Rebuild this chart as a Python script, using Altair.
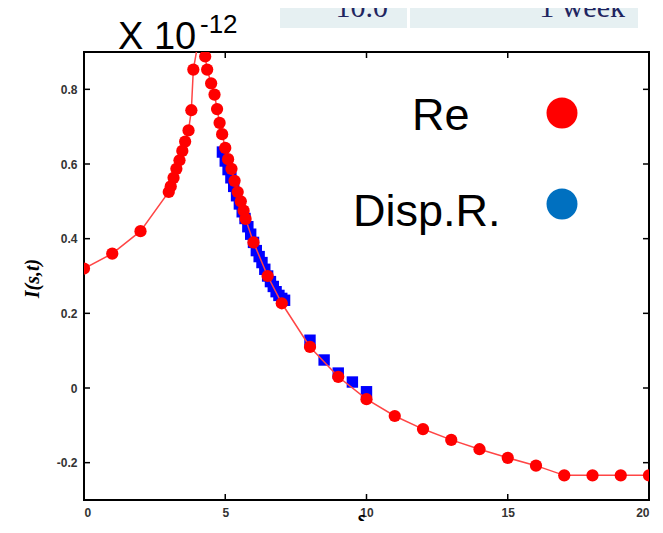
import altair as alt
import pandas as pd

# Red "Re" series (circles joined by a line)
red_x = [0, 1, 2, 3.0, 3.07, 3.17, 3.27, 3.38, 3.48, 3.58, 3.7, 3.8, 3.87, 4.05,
         4.29, 4.36, 4.5, 4.62, 4.71, 4.8, 4.89, 5.0, 5.1, 5.22, 5.33, 5.44, 5.55, 5.65, 5.72,
         6.0, 6.5, 7.0, 8, 9, 10, 11, 12, 13, 14, 15, 16, 17, 18, 19, 20]
red_y = [0.32, 0.36, 0.42, 0.525, 0.54, 0.563, 0.587, 0.61, 0.635, 0.66, 0.69, 0.744, 0.853, 0.93,
         0.888, 0.853, 0.816, 0.786, 0.747, 0.71, 0.68, 0.643, 0.613, 0.587, 0.555, 0.525, 0.50, 0.475, 0.453,
         0.39, 0.30, 0.227, 0.11, 0.03, -0.03, -0.075, -0.11, -0.139, -0.164, -0.187, -0.208,
         -0.234, -0.234, -0.234, -0.234]

# Blue "Disp.R." series (squares)
blue_x = [4.9, 5.0, 5.1, 5.2, 5.3, 5.4, 5.5, 5.6, 5.7, 5.8, 5.9, 6.0, 6.1, 6.2, 6.3, 6.4, 6.5,
          6.6, 6.7, 6.8, 6.9, 7.0, 7.1, 8.0, 8.5, 9.0, 9.5, 10.0]
blue_y = [0.632, 0.608, 0.585, 0.563, 0.540, 0.515, 0.493, 0.472, 0.454, 0.432, 0.412, 0.39,
          0.368, 0.352, 0.336, 0.318, 0.30, 0.285, 0.272, 0.258, 0.248, 0.240, 0.235,
          0.128, 0.075, 0.04, 0.016, -0.01]

x_ticks = [0, 5, 10, 15, 20]
y_ticks = [-0.2, 0, 0.2, 0.4, 0.6, 0.8]

W, H = 565, 448

red = pd.DataFrame({"x": red_x, "y": red_y})
blue = pd.DataFrame({"x": blue_x, "y": blue_y})
xt = pd.DataFrame({"x": x_ticks})
yt = pd.DataFrame({"y": y_ticks})
one = pd.DataFrame({"a": [0]})

xscale = alt.Scale(domain=[0, 20], nice=False, zero=False)
yscale = alt.Scale(domain=[-0.3, 0.9], nice=False, zero=False)

xaxis = alt.Axis(values=x_ticks, ticks=False, tickSize=0, domain=False, grid=False,
                 labelFont="Liberation Sans", labelFontWeight="bold", labelFontSize=12,
                 labelColor="#333333", labelPadding=7,
                 title="s", titleFont="Liberation Serif", titleFontStyle="italic",
                 titleFontWeight="bold", titleFontSize=20, titleY=8, titleBaseline="top",
                 titleX=277, titleColor="black")
yaxis = alt.Axis(values=y_ticks, ticks=False, tickSize=0, domain=False, grid=False,
                 labelFont="Liberation Sans", labelFontWeight="bold", labelFontSize=12,
                 labelColor="#333333", labelPadding=7,
                 labelExpr="datum.value == 0 ? '0' : (datum.value < 0 ? '-' : '') + format(abs(datum.value), '.1f')",
                 title="I(s,t)", titleFont="Liberation Serif", titleFontStyle="italic",
                 titleFontWeight="bold", titleFontSize=20, titleAngle=270,
                 titleX=-52, titleY=226, titleAlign="center", titleBaseline="middle",
                 titleColor="black")

X = alt.X("x:Q", scale=xscale, axis=xaxis)
Y = alt.Y("y:Q", scale=yscale, axis=yaxis)

blue_pts = alt.Chart(blue).mark_square(size=130, color="#0000ff", opacity=1, clip=True).encode(x=X, y=Y)
red_line = alt.Chart(red).mark_line(color="#ff4545", strokeWidth=1.5, clip=True).encode(x=X, y=Y)
red_pts = alt.Chart(red).mark_circle(size=150, color="#ff0000", opacity=1, clip=True).encode(x=X, y=Y)

tx = alt.X("x:Q", scale=xscale)
ty = alt.Y("y:Q", scale=yscale)
tick_style = dict(color="black", strokeWidth=1.5)
ticks_bottom = alt.Chart(xt).mark_rule(**tick_style).encode(x=tx, y=alt.value(H), y2=alt.value(H - 6))
ticks_top = alt.Chart(xt).mark_rule(**tick_style).encode(x=tx, y=alt.value(0), y2=alt.value(6))
ticks_left = alt.Chart(yt).mark_rule(**tick_style).encode(y=ty, x=alt.value(0), x2=alt.value(6))
ticks_right = alt.Chart(yt).mark_rule(**tick_style).encode(y=ty, x=alt.value(W), x2=alt.value(W - 6))

# Table fragment at top
tab1 = alt.Chart(one).mark_rect(color="#E6F0F2").encode(
    x=alt.value(196), x2=alt.value(323), y=alt.value(-52), y2=alt.value(-24))
tab2 = alt.Chart(one).mark_rect(color="#E6F0F2").encode(
    x=alt.value(326), x2=alt.value(554), y=alt.value(-52), y2=alt.value(-24))
tab_t1 = alt.Chart(one).mark_text(text="10.0", font="Liberation Serif", fontSize=30,
                                  color="#1F2560", align="right", baseline="alphabetic").encode(
    x=alt.value(304), y=alt.value(-35))
tab_t2 = alt.Chart(one).mark_text(text="1  week", font="Liberation Serif", fontSize=30,
                                  color="#1F2560", align="right", baseline="alphabetic").encode(
    x=alt.value(541), y=alt.value(-35))

# Multiplier annotation
mult = alt.Chart(one).mark_text(text="X 10", font="Liberation Sans", fontSize=38, color="black",
                                align="left", baseline="alphabetic").encode(
    x=alt.value(34), y=alt.value(-3))
mult_exp = alt.Chart(one).mark_text(text="-12", font="Liberation Sans", fontSize=26, color="black",
                                    align="left", baseline="alphabetic").encode(
    x=alt.value(116), y=alt.value(-19))

# Legend-like annotation
leg_re = alt.Chart(one).mark_text(text="Re", font="Liberation Sans", fontSize=45, color="black",
                                  align="left", baseline="alphabetic").encode(
    x=alt.value(328), y=alt.value(78))
leg_dr = alt.Chart(one).mark_text(text="Disp.R.", font="Liberation Sans", fontSize=45, color="black",
                                  align="left", baseline="alphabetic").encode(
    x=alt.value(269), y=alt.value(174))
dot_re = alt.Chart(one).mark_circle(size=960, color="#ff0000", opacity=1).encode(
    x=alt.value(478), y=alt.value(61))
dot_dr = alt.Chart(one).mark_circle(size=960, color="#0070C0", opacity=1).encode(
    x=alt.value(478), y=alt.value(152))

chart = alt.layer(
    blue_pts, red_line, red_pts,
    ticks_bottom, ticks_top, ticks_left, ticks_right,
    tab1, tab2, tab_t1, tab_t2, mult, mult_exp,
    leg_re, leg_dr, dot_re, dot_dr
).properties(
    width=W, height=H,
    padding={"left": 76, "top": 44, "right": 6, "bottom": 21},
    autosize="none",
    background="white"
).configure_view(stroke="black", strokeWidth=2)

chart.save("out.html", embed_options={"renderer": "svg", "actions": False})
